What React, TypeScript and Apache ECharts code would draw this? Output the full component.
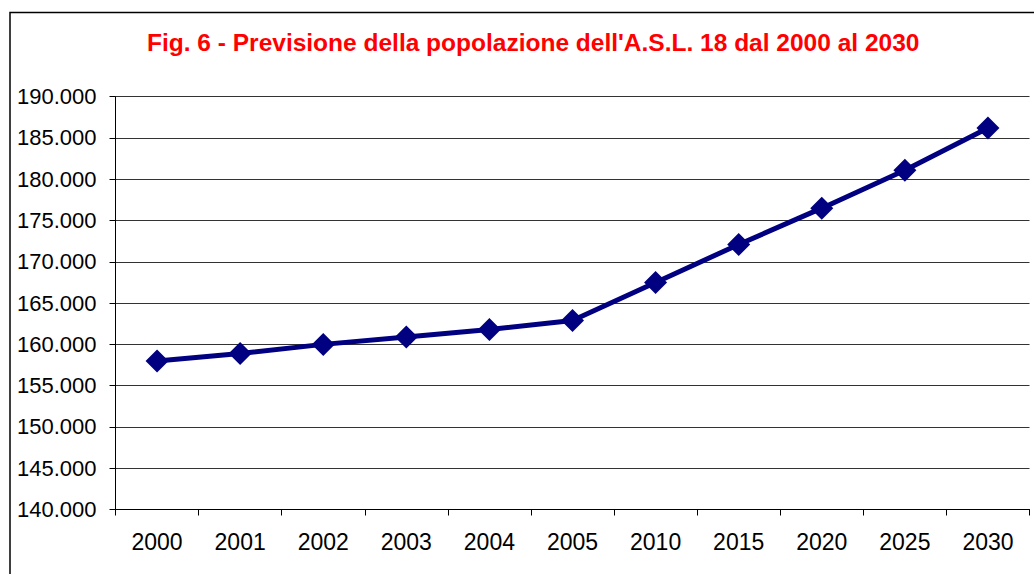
import React, { useEffect, useRef } from "react";
import * as echarts from "echarts";

const titleText = "Fig. 6 - Previsione della popolazione dell'A.S.L. 18 dal 2000 al 2030";
const categories = ["2000", "2001", "2002", "2003", "2004", "2005", "2010", "2015", "2020", "2025", "2030"];
const population = [158000, 158900, 160000, 160900, 161800, 162900, 167500, 172100, 176500, 181100, 186200];
const yMin = 140000;
const yMax = 190000;
const yStep = 5000;

const fmt = (v: number) => {
  const s = Math.round(v).toString();
  return s.replace(/\B(?=(\d{3})+(?!\d))/g, ".");
};

export default function App() {
  const ref = useRef<HTMLDivElement>(null);
  useEffect(() => {
    document.body.style.margin = "0";
    const chart = echarts.init(ref.current!, null, { renderer: "svg" });
    const font = "'Liberation Sans', Arial, sans-serif";
    chart.setOption({
      animation: false,
      backgroundColor: "#ffffff",
      title: {
        text: titleText,
        left: 142,
        top: 25,
        textStyle: {
          color: "#ff0000",
          fontWeight: "bold",
          fontSize: 24.5,
          fontFamily: font,
        },
      },
      graphic: [
        {
          type: "rect",
          shape: { x: 10, y: 12.5, width: 1200, height: 800 },
          style: { fill: "none", stroke: "#000000", lineWidth: 1.5 },
          silent: true,
        },
      ],
      grid: { left: 115.5, right: 4.5, top: 96.7, bottom: 64.5, containLabel: false },
      xAxis: {
        type: "category",
        data: categories,
        boundaryGap: true,
        axisLine: { show: true, lineStyle: { color: "#000000", width: 1 } },
        axisTick: { show: true, interval: 0, length: 6, lineStyle: { color: "#000000" } },
        axisLabel: { interval: 0, margin: 21, fontSize: 23, color: "#000000", fontFamily: font },
        splitLine: { show: false },
      },
      yAxis: {
        type: "value",
        min: yMin,
        max: yMax,
        interval: yStep,
        axisLine: { show: true, lineStyle: { color: "#000000", width: 1 } },
        axisTick: { show: true, length: 6, lineStyle: { color: "#000000" } },
        axisLabel: {
          margin: 19,
          fontSize: 22,
          color: "#000000",
          fontFamily: font,
          formatter: (v: number) => fmt(v),
        },
        splitLine: { show: true, lineStyle: { color: "#333333", width: 1 } },
      },
      series: [
        {
          type: "line",
          data: population,
          symbol: "diamond",
          symbolSize: 23,
          lineStyle: { color: "#000080", width: 5 },
          itemStyle: { color: "#000080" },
        },
      ],
    });
    return () => chart.dispose();
  }, []);
  return <div ref={ref} style={{ width: 1034, height: 574 }} />;
}
